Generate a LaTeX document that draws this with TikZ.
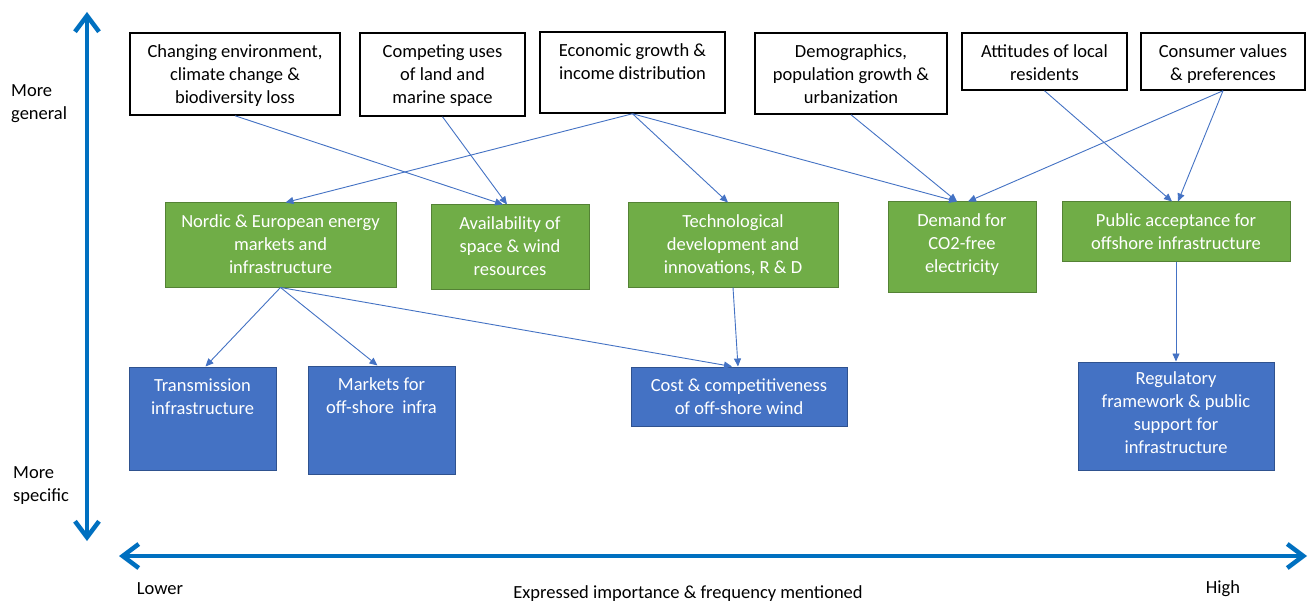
\documentclass[tikz,border=0pt]{standalone}
\usepackage{fontspec}
\setmainfont{Carlito}
\usetikzlibrary{arrows.meta}
\definecolor{axisblue}{HTML}{0070C0}
\definecolor{gfill}{HTML}{70AD47}
\definecolor{gline}{HTML}{548235}
\definecolor{bfill}{HTML}{4472C4}
\definecolor{bline}{HTML}{2F528F}
\definecolor{connc}{HTML}{4472C4}
\begin{document}
\begin{tikzpicture}[x=1pt,y=-1pt,
  every node/.style={font=\fontsize{18.5}{23}\selectfont},
  topbox/.style={draw=black, line width=1.5pt, fill=white, inner sep=0},
  greenbox/.style={draw=gline, line width=1pt, fill=gfill, inner sep=0},
  bluebox/.style={draw=bline, line width=1pt, fill=bfill, inner sep=0},
  boxtext/.style={align=center, inner sep=0, anchor=north, yshift=-9pt},
  wtext/.style={boxtext, text=white},
  connector/.style={draw=connc, line width=0.9pt, -{Triangle[length=8pt,width=7pt]}},
  axisline/.style={draw=axisblue, line width=4.5pt, line cap=round,
     {Straight Barb[length=16pt,width=24pt]}-{Straight Barb[length=16pt,width=24pt]}},
]
\useasboundingbox[fill=white] (0,0) rectangle (1312,604);

% axes
\coordinate (vtop) at (87,12);
\coordinate (vbot) at (87,541);
\coordinate (hleft) at (119,556);
\coordinate (hright) at (1307,556);
\draw[axisline] (vtop) -- (vbot);
\draw[axisline] (hleft) -- (hright);

\node[anchor=west, align=left, inner sep=0] (gen) at (11,104) {More\\general};
\node[anchor=west, align=left, inner sep=0] (spec) at (13,486) {More\\specific};
\node (low) at (160,589) {Lower};
\node (exp) at (688,594) {Expressed importance \& frequency mentioned};
\node (high) at (1223,589) {High};

% top boxes
\node[topbox, minimum width=210pt, minimum height=82pt] (env) at (235,74) {};
\node[boxtext] (envt) at (env.north) {\strut Changing environment,\\climate change \&\\biodiversity loss};
\node[topbox, minimum width=165pt, minimum height=83pt] (comp) at (442.5,74.5) {};
\node[boxtext] (compt) at (comp.north) {\strut Competing uses\\of land and\\marine space};
\node[topbox, minimum width=185pt, minimum height=81pt] (econ) at (632.5,72.5) {};
\node[boxtext] (econt) at (econ.north) {\strut Economic growth \&\\income distribution};
\node[topbox, minimum width=192pt, minimum height=81pt] (demo) at (851,73.5) {};
\node[boxtext] (demot) at (demo.north) {\strut Demographics,\\population growth \&\\urbanization};
\node[topbox, minimum width=165pt, minimum height=57pt] (att) at (1044.5,61.5) {};
\node[boxtext] (attt) at (att.north) {\strut Attitudes of local\\residents};
\node[topbox, minimum width=164pt, minimum height=57pt] (cons) at (1223,61.5) {};
\node[boxtext] (const) at (cons.north) {\strut Consumer values\\\& preferences};

% green boxes
\node[greenbox, minimum width=231pt, minimum height=84pt] (nord) at (280.5,245) {};
\node[wtext] (nordt) at (nord.north) {\strut Nordic \& European energy\\markets and\\infrastructure};
\node[greenbox, minimum width=158pt, minimum height=84pt] (avail) at (510,247) {};
\node[wtext] (availt) at (avail.north) {\strut Availability of\\space \& wind\\resources};
\node[greenbox, minimum width=210pt, minimum height=84pt] (tech) at (733,245) {};
\node[wtext] (techt) at (tech.north) {\strut Technological\\development and\\innovations, R \& D};
\node[greenbox, minimum width=148pt, minimum height=90pt] (dem) at (962,247) {};
\node[wtext] (demt) at (dem.north) {\strut Demand for\\CO2-free\\electricity};
\node[greenbox, minimum width=228pt, minimum height=59pt] (pub) at (1176,231.5) {};
\node[wtext] (pubt) at (pub.north) {\strut Public acceptance for\\offshore infrastructure};

% blue boxes
\node[bluebox, minimum width=147pt, minimum height=103pt] (trans) at (202.5,418.5) {};
\node[wtext] (transt) at (trans.north) {\strut Transmission\\infrastructure};
\node[bluebox, minimum width=147pt, minimum height=108pt] (mark) at (381.5,420) {};
\node[wtext] (markt) at (mark.north) {\strut Markets for\\off-shore\ \ infra};
\node[bluebox, minimum width=216pt, minimum height=59pt] (cost) at (739,396.5) {};
\node[wtext] (costt) at (cost.north) {\strut Cost \& competitiveness\\of off-shore wind};
\node[bluebox, minimum width=196pt, minimum height=108pt] (reg) at (1176,416) {};
\node[wtext, yshift=2pt] (regt) at (reg.north) {\strut Regulatory\\framework \& public\\support for\\infrastructure};

% connectors
\draw[connector] (env.south) -- ([xshift=-7pt]avail.north);
\draw[connector] (comp.south) -- ([xshift=-3pt]avail.north);
\draw[connector] (econ.south) -- ([xshift=5pt]nord.north);
\draw[connector] (econ.south) -- ([xshift=-5pt]tech.north);
\draw[connector] (econ.south) -- ([xshift=-5pt]dem.north);
\draw[connector] (demo.south) -- ([xshift=-5pt]dem.north);
\draw[connector] (cons.south) -- ([xshift=6pt]dem.north);
\draw[connector] (att.south) -- ([xshift=-4pt]pub.north);
\draw[connector] (cons.south) -- ([xshift=2pt]pub.north);
\draw[connector] (nord.south) -- ([xshift=3pt]trans.north);
\draw[connector] (nord.south) -- ([xshift=-4pt]mark.north);
\draw[connector] (nord.south) -- ([xshift=-7pt]cost.north);
\draw[connector] (tech.south) -- ([xshift=-1pt]cost.north);
\draw[connector] (pub.south) -- (reg.north);
\end{tikzpicture}
\end{document}
